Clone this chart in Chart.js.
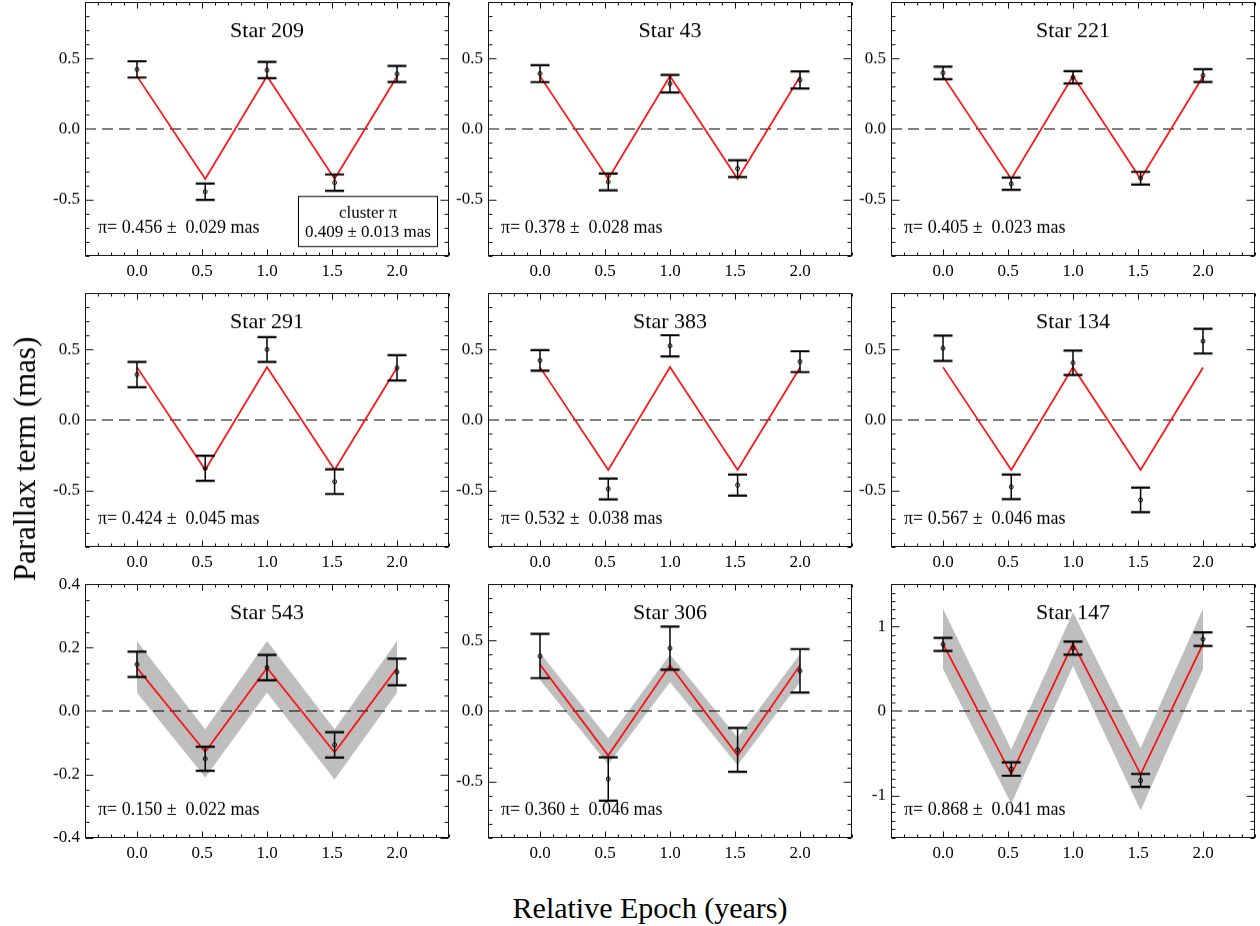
<!DOCTYPE html>
<html>
<head>
<meta charset="utf-8">
<script src="https://cdn.jsdelivr.net/npm/chart.js@4/dist/chart.umd.min.js"></script>
<style>
  body { margin: 0; width: 1260px; height: 926px; overflow: hidden; background: #fff; position: relative; font-family: "Liberation Serif", serif; }
  .panel { position: absolute; line-height: 0; }
  .ytitle { position: absolute; left: 25px; top: 459px; transform: translate(-50%, -50%) rotate(-90deg); font-size: 31px; white-space: nowrap; }
  .xtitle { position: absolute; left: 650px; top: 908px; transform: translate(-50%, -50%); font-size: 30px; white-space: nowrap; }
</style>
</head>
<body>
<div id="fig"></div>
<div class="ytitle">Parallax term (mas)</div>
<div class="xtitle">Relative Epoch (years)</div>
<script>
// epochs of the five observations (years)
const epochs = [0, 0.525, 1.0, 1.52, 2.0];

const starNames = ['Star 209', 'Star 43', 'Star 221', 'Star 291', 'Star 383', 'Star 134', 'Star 543', 'Star 306', 'Star 147'];
const plxValues = [0.456, 0.378, 0.405, 0.424, 0.532, 0.567, 0.150, 0.360, 0.868];
const plxErrors = [0.029, 0.028, 0.023, 0.045, 0.038, 0.046, 0.022, 0.046, 0.041];
const clusterPlx = 0.409;
const clusterErr = 0.013;

// measured parallax term at each epoch, and its error
const obsValues = [
  [0.423, -0.446, 0.418, -0.381, 0.391],
  [0.393, -0.376, 0.321, -0.282, 0.348],
  [0.398, -0.389, 0.367, -0.350, 0.379],
  [0.322, -0.344, 0.500, -0.438, 0.370],
  [0.423, -0.490, 0.527, -0.463, 0.414],
  [0.509, -0.475, 0.406, -0.568, 0.560],
  [0.147, -0.151, 0.137, -0.107, 0.123],
  [0.390, -0.483, 0.446, -0.276, 0.285],
  [0.788, -0.687, 0.744, -0.823, 0.850]
];
const obsErrors = [
  [0.058, 0.058, 0.058, 0.058, 0.057],
  [0.060, 0.060, 0.062, 0.060, 0.060],
  [0.044, 0.044, 0.044, 0.045, 0.045],
  [0.090, 0.089, 0.088, 0.088, 0.090],
  [0.073, 0.074, 0.075, 0.075, 0.074],
  [0.090, 0.087, 0.087, 0.087, 0.088],
  [0.040, 0.038, 0.040, 0.040, 0.042],
  [0.157, 0.154, 0.153, 0.156, 0.155],
  [0.078, 0.080, 0.077, 0.077, 0.080]
];

// model curves (red) and uncertainty band (grey)
const clusterModel = [0.375, -0.355, 0.375, -0.355, 0.372];
const modelValues = [
  clusterModel, clusterModel, clusterModel,
  clusterModel, clusterModel, clusterModel,
  [0.136, -0.129, 0.136, -0.131, 0.135],
  [0.330, -0.316, 0.325, -0.316, 0.325],
  [0.794, -0.750, 0.800, -0.750, 0.794]
];
const bandUpper = [null, null, null, null, null, null,
  [0.221, -0.058, 0.221, -0.058, 0.221],
  [0.413, -0.195, 0.400, -0.190, 0.405],
  [1.210, -0.456, 1.170, -0.440, 1.210]
];
const bandLower = [null, null, null, null, null, null,
  [0.058, -0.210, 0.058, -0.216, 0.058],
  [0.220, -0.380, 0.205, -0.385, 0.205],
  [0.496, -1.100, 0.530, -1.180, 0.496]
];

// axes
const xRange = [-0.4, 2.4];
const xTicks = [0, 0.5, 1.0, 1.5, 2.0];
const yRanges = [[-0.9, 0.9], [-0.9, 0.9], [-0.9, 0.9], [-0.9, 0.9], [-0.9, 0.9], [-0.9, 0.9], [-0.4, 0.4], [-0.9, 0.9], [-1.5, 1.5]];
const yTicks = [[-0.5, 0, 0.5], [-0.5, 0, 0.5], [-0.5, 0, 0.5], [-0.5, 0, 0.5], [-0.5, 0, 0.5], [-0.5, 0, 0.5],
  [-0.4, -0.2, 0, 0.2, 0.4], [-0.5, 0, 0.5], [-1, 0, 1]];
const yMinorSteps = [0.1, 0.1, 0.1, 0.1, 0.1, 0.1, 0.05, 0.1, 0.1];
const yDecimals = [1, 1, 1, 1, 1, 1, 1, 1, 0];

// layout of the 3x3 grid
const colLeft = [85, 488, 891];
const rowTop = [2, 293, 584];
const plotW = 364, plotH = 253;
const yAxisW = 60, xAxisH = 30, padTop = 14, padRight = 4;

const FONT = '"Liberation Serif", serif';

function pts(xs, ys) {
  return xs.map((x, i) => ({ x: x, y: ys[i] }));
}

const panelDecor = {
  id: 'panelDecor',
  beforeDatasetDraw(chart, args, opts) {
    const { ctx, chartArea: a, scales: { x, y } } = chart;
    if (args.index === 1) {
      // dashed zero line under the model
      const y0 = Math.round(y.getPixelForValue(0)) + 0.5;
      ctx.save();
      ctx.strokeStyle = '#000';
      ctx.lineWidth = 1.2;
      ctx.setLineDash([11, 6]);
      ctx.beginPath();
      ctx.moveTo(a.left, y0);
      ctx.lineTo(a.right, y0);
      ctx.stroke();
      ctx.restore();
    }
    if (args.index === 0) {
      // error bars
      const vals = obsValues[opts.k], errs = obsErrors[opts.k];
      ctx.save();
      ctx.strokeStyle = '#000';
      epochs.forEach((e, i) => {
        const px = x.getPixelForValue(e);
        const pt = y.getPixelForValue(vals[i] + errs[i]);
        const pb = y.getPixelForValue(vals[i] - errs[i]);
        ctx.lineWidth = 1.5;
        ctx.beginPath();
        ctx.moveTo(px, pt); ctx.lineTo(px, pb);
        ctx.stroke();
        ctx.lineWidth = 2.2;
        ctx.beginPath();
        ctx.moveTo(px - 9.5, pt); ctx.lineTo(px + 9.5, pt);
        ctx.moveTo(px - 9.5, pb); ctx.lineTo(px + 9.5, pb);
        ctx.stroke();
      });
      ctx.restore();
    }
  },
  afterDraw(chart, args, opts) {
    const { ctx, chartArea: a, scales: { x, y } } = chart;
    const k = opts.k;
    const L = Math.round(a.left) + 0.5, R = Math.round(a.right) - 0.5;
    const T = Math.round(a.top) + 0.5, B = Math.round(a.bottom) - 0.5;
    ctx.save();
    ctx.strokeStyle = '#111';
    ctx.lineWidth = 1;
    ctx.strokeRect(L, T, R - L, B - T);

    // inward ticks on all four sides
    ctx.beginPath();
    for (let j = Math.ceil(xRange[0] / 0.1 - 1e-6); j <= Math.floor(xRange[1] / 0.1 + 1e-6); j++) {
      const v = j * 0.1;
      const major = xTicks.some(t => Math.abs(t - v) < 1e-6);
      const len = major ? 6 : 3;
      const px = Math.round(x.getPixelForValue(v)) + 0.5;
      ctx.moveTo(px, B); ctx.lineTo(px, B - len);
      ctx.moveTo(px, T); ctx.lineTo(px, T + len);
    }
    const [ymin, ymax] = yRanges[k];
    const st = yMinorSteps[k];
    for (let j = Math.ceil(ymin / st - 1e-6); j <= Math.floor(ymax / st + 1e-6); j++) {
      const v = j * st;
      const major = yTicks[k].some(t => Math.abs(t - v) < 1e-6);
      const len = major ? 8 : 4;
      const py = Math.round(y.getPixelForValue(v)) + 0.5;
      ctx.moveTo(L, py); ctx.lineTo(L + len, py);
      ctx.moveTo(R, py); ctx.lineTo(R - len, py);
    }
    ctx.stroke();

    // panel texts
    ctx.fillStyle = '#000';
    ctx.textBaseline = 'middle';
    ctx.textAlign = 'center';
    ctx.font = '22px ' + FONT;
    ctx.fillText(starNames[k], (a.left + a.right) / 2, a.top + 29);

    ctx.textAlign = 'left';
    ctx.font = '18px ' + FONT;
    ctx.fillText('\u03c0= ' + plxValues[k].toFixed(3) + ' \u00b1  ' + plxErrors[k].toFixed(3) + ' mas', a.left + 13, a.bottom - 27);

    if (opts.cluster) {
      ctx.fillStyle = '#fff';
      ctx.fillRect(a.left + 213.5, a.top + 193.5, 139, 50);
      ctx.strokeStyle = '#000';
      ctx.lineWidth = 1;
      ctx.strokeRect(a.left + 213.5, a.top + 193.5, 139, 50);
      ctx.fillStyle = '#000';
      ctx.textAlign = 'center';
      ctx.font = '17px ' + FONT;
      ctx.fillText('cluster \u03c0', a.left + 283, a.top + 210);
      ctx.fillText(clusterPlx.toFixed(3) + ' \u00b1 ' + clusterErr.toFixed(3) + ' mas', a.left + 283, a.top + 229);
    }
    ctx.restore();
  }
};

const fig = document.getElementById('fig');

starNames.forEach((name, k) => {
  const col = k % 3, row = Math.floor(k / 3);
  const w = yAxisW + plotW + padRight;
  const h = padTop + plotH + xAxisH;
  const box = document.createElement('div');
  box.className = 'panel';
  box.style.left = (colLeft[col] - yAxisW) + 'px';
  box.style.top = (rowTop[row] - padTop) + 'px';
  const cv = document.createElement('canvas');
  cv.width = w; cv.height = h;
  cv.style.width = w + 'px'; cv.style.height = h + 'px';
  cv.style.display = 'block';
  box.appendChild(cv);
  fig.appendChild(box);

  const datasets = [
    {
      label: 'observed',
      data: pts(epochs, obsValues[k]),
      showLine: false,
      pointRadius: 2,
      pointBorderWidth: 1,
      pointBorderColor: '#000',
      pointBackgroundColor: 'rgba(255,255,255,0)'
    },
    {
      label: 'model',
      data: pts(epochs, modelValues[k]),
      borderColor: '#ff0000',
      borderWidth: 1.6,
      pointRadius: 0,
      fill: false,
      tension: 0
    }
  ];
  if (bandUpper[k]) {
    datasets.push({
      label: 'band low',
      data: pts(epochs, bandLower[k]),
      borderWidth: 0,
      pointRadius: 0,
      fill: false
    });
    datasets.push({
      label: 'band high',
      data: pts(epochs, bandUpper[k]),
      borderWidth: 0,
      pointRadius: 0,
      backgroundColor: '#bebebe',
      fill: '-1'
    });
  }

  const tickFont = { family: FONT, size: 17 };
  const chart = new Chart(cv, {
    type: 'line',
    data: { datasets: datasets },
    options: {
      responsive: false,
      animation: false,
      devicePixelRatio: 1,
      layout: { padding: { top: padTop, right: padRight, left: 0, bottom: 0 } },
      plugins: {
        legend: { display: false },
        tooltip: { enabled: false },
        panelDecor: { k: k, cluster: k === 0 }
      },
      scales: {
        x: {
          type: 'linear',
          min: xRange[0],
          max: xRange[1],
          afterBuildTicks: s => { s.ticks = xTicks.map(v => ({ value: v })); },
          afterFit: s => { s.height = xAxisH; },
          grid: { display: false, drawTicks: false },
          border: { display: false },
          ticks: { color: '#000', font: tickFont, padding: 6, maxRotation: 0, autoSkip: false,
                   callback: v => Number(v).toFixed(1) }
        },
        y: {
          type: 'linear',
          min: yRanges[k][0],
          max: yRanges[k][1],
          afterBuildTicks: s => { s.ticks = yTicks[k].map(v => ({ value: v })); },
          afterFit: s => { s.width = yAxisW; },
          grid: { display: false, drawTicks: false },
          border: { display: false },
          ticks: { color: '#000', font: tickFont, padding: 5, autoSkip: false,
                   callback: v => Number(v).toFixed(yDecimals[k]) }
        }
      }
    },
    plugins: [panelDecor]
  });

  // make the plot area exactly plotW x plotH and put it where the grid wants it
  let a = chart.chartArea;
  const dw = plotW - (a.right - a.left), dh = plotH - (a.bottom - a.top);
  if (Math.abs(dw) > 0.5 || Math.abs(dh) > 0.5) {
    chart.resize(Math.round(w + dw), Math.round(h + dh));
    a = chart.chartArea;
  }
  box.style.left = Math.round(colLeft[col] - a.left) + 'px';
  box.style.top = Math.round(rowTop[row] - a.top) + 'px';
});
</script>
</body>
</html>
